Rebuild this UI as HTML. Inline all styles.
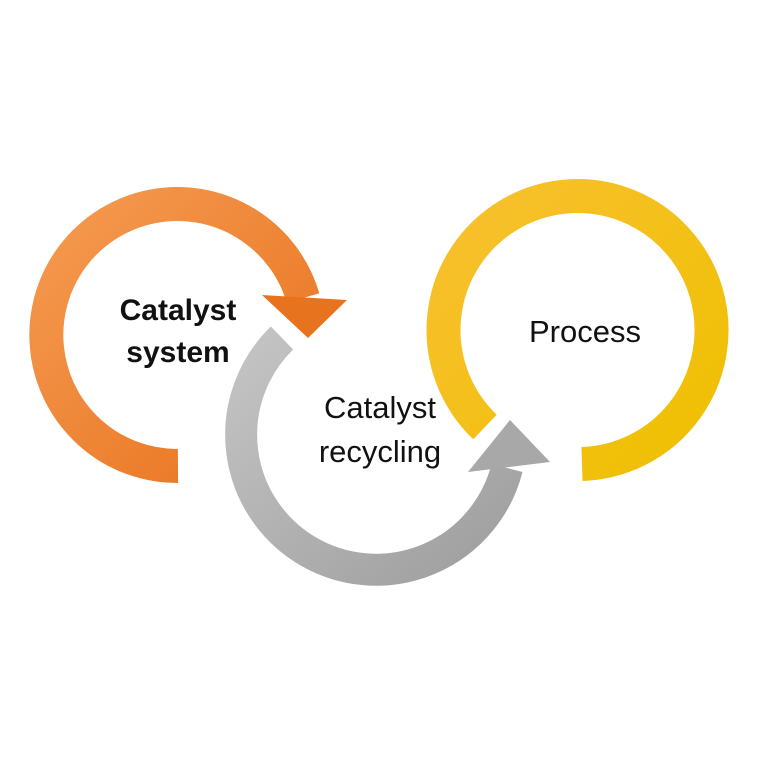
<!DOCTYPE html>
<html><head><style>
html,body{margin:0;padding:0;background:#fff;}
svg{display:block}
text{font-family:"Liberation Sans","DejaVu Sans",sans-serif;fill:#111}
</style></head><body>
<svg width="767" height="767" viewBox="0 0 767 767" xmlns="http://www.w3.org/2000/svg">
<defs>
<linearGradient id="og" x1="0" y1="0" x2="1" y2="1"><stop offset="0" stop-color="#f59a50"/><stop offset="1" stop-color="#e8731f"/></linearGradient>
<linearGradient id="gg" x1="0" y1="0" x2="1" y2="1"><stop offset="0" stop-color="#c4c4c4"/><stop offset="1" stop-color="#9e9e9e"/></linearGradient>
<linearGradient id="yg" x1="0" y1="0" x2="1" y2="1"><stop offset="0" stop-color="#f8c030"/><stop offset="1" stop-color="#efc000"/></linearGradient>
</defs>
<path d="M 485 427 A 134 134 0 1 1 582 464" fill="none" stroke="url(#yg)" stroke-width="34"/>
<path d="M 178 466 A 131 131 0 1 1 303 298" fill="none" stroke="url(#og)" stroke-width="34"/>
<polygon points="262,295 347,300 308,338" fill="#e8731f"/>
<path d="M 282 338 A 135 135 0 1 0 507 468" fill="none" stroke="url(#gg)" stroke-width="32"/>
<polygon points="510,420 550,462 468,472" fill="#a8a8a8"/>
<text x="178" y="320" font-size="30" font-weight="bold" text-anchor="middle">Catalyst</text>
<text x="178" y="362" font-size="30" font-weight="bold" text-anchor="middle">system</text>
<text x="380" y="418" font-size="31" text-anchor="middle">Catalyst</text>
<text x="380" y="462" font-size="31" text-anchor="middle">recycling</text>
<text x="585" y="342" font-size="31" text-anchor="middle">Process</text>
</svg>
</body></html>
